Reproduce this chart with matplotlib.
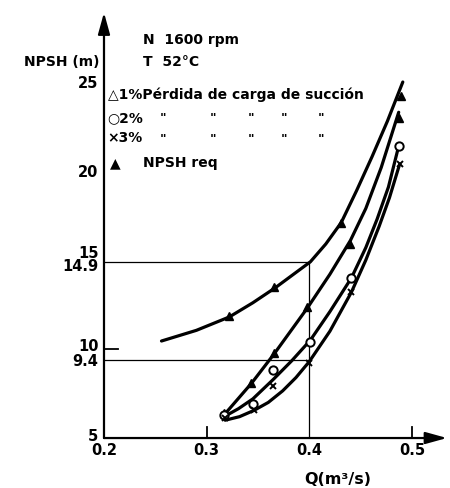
import matplotlib
matplotlib.use("Agg")
import matplotlib.pyplot as plt

plt.rcParams['font.family'] = ['DejaVu Sans']

# Curve traces (Q in m3/s, NPSH in m)
req_q = [0.256, 0.290, 0.322, 0.345, 0.367, 0.401, 0.416, 0.431, 0.446, 0.461, 0.476, 0.491]
req_h = [10.45, 11.05, 11.8, 12.6, 13.45, 14.9, 15.9, 17.1, 18.9, 20.8, 22.8, 25.0]

pct1_q = [0.317, 0.344, 0.366, 0.398, 0.420, 0.440, 0.455, 0.470, 0.487]
pct1_h = [6.3, 8.1, 9.75, 12.3, 14.2, 16.1, 17.9, 20.2, 23.3]

pct2_q = [0.317, 0.331, 0.345, 0.365, 0.383, 0.401, 0.420, 0.441, 0.455, 0.466, 0.477, 0.487]
pct2_h = [6.2, 6.65, 7.2, 8.3, 9.35, 10.5, 12.1, 14.0, 15.7, 17.3, 19.1, 21.4]

pct3_q = [0.318, 0.332, 0.346, 0.360, 0.374, 0.387, 0.400, 0.420, 0.441, 0.455, 0.468, 0.478, 0.488]
pct3_h = [6.0, 6.2, 6.55, 7.0, 7.65, 8.4, 9.3, 11.0, 13.2, 15.0, 16.9, 18.5, 20.4]

# Measured points
req_pts_q = [0.322, 0.366, 0.431, 0.489]
req_pts_h = [11.85, 13.5, 17.1, 24.2]
pct1_pts_q = [0.317, 0.343, 0.366, 0.398, 0.440, 0.487]
pct1_pts_h = [6.4, 8.1, 9.8, 12.35, 15.9, 23.0]
pct2_pts_q = [0.317, 0.345, 0.365, 0.401, 0.441, 0.487]
pct2_pts_h = [6.3, 6.9, 8.8, 10.4, 14.0, 21.4]
pct3_pts_q = [0.318, 0.346, 0.365, 0.400, 0.441, 0.488]
pct3_pts_h = [6.1, 6.6, 7.9, 9.2, 13.2, 20.4]

# Operating point read-off
op_q = 0.4
op_h_req = 14.9
op_h_3 = 9.4

y_ticks = [5, 9.4, 10, 14.9, 15, 20, 25]
y_tick_labels = ["5", "9.4", "10", "14.9", "15", "20", "25"]
x_ticks = [0.2, 0.3, 0.4, 0.5]
x_tick_labels = ["0.2", "0.3", "0.4", "0.5"]

fig = plt.figure(figsize=(4.5, 4.89), dpi=100)
ax = fig.add_axes([0.2311, 0.1022, 0.7667, 0.870])
x0, x1 = 0.2, 0.536
y0, y1 = 5, 28.9
ax.set_xlim(x0, x1)
ax.set_ylim(y0, y1)
for s in ax.spines.values():
    s.set_visible(False)
ax.set_xticks([])
ax.set_yticks([])

# Axes with arrowheads
arrow = dict(arrowstyle='-|>,head_length=1.3,head_width=0.36', mutation_scale=10,
             lw=1.6, color='black', shrinkA=0, shrinkB=0)
ax.annotate('', xy=(x0, y1), xytext=(x0, y0), arrowprops=arrow, annotation_clip=False)
ax.annotate('', xy=(x1 - 0.002, y0), xytext=(x0, y0), arrowprops=arrow, annotation_clip=False)

# Tick labels (nudged apart where two values sit close together)
lab_kw = dict(fontsize=10.5, fontweight='bold', textcoords='offset points',
              annotation_clip=False)
y_nudge = {"5": 2.0, "9.4": -0.5, "10": 2.5, "14.9": -3.0, "15": 5.5}
for v, lab in zip(y_ticks, y_tick_labels):
    ax.annotate(lab, xy=(x0, v), xytext=(-4, y_nudge.get(lab, 0)),
                ha='right', va='center', **lab_kw)
for v, lab in zip(x_ticks, x_tick_labels):
    ax.annotate(lab, xy=(v, y0), xytext=(0, -3), ha='center', va='top', **lab_kw)

# Short tick marks
ax.plot([0.3, 0.3], [5, 5.6], color='black', lw=1.3)
ax.plot([0.5, 0.5], [5, 5.6], color='black', lw=1.3)
ax.plot([0.2, 0.2136], [10, 10], color='black', lw=1.3)

# Read-off guide lines
ax.plot([x0, op_q], [op_h_req, op_h_req], color='black', lw=0.9)
ax.plot([x0, op_q], [op_h_3, op_h_3], color='black', lw=0.9)
ax.plot([op_q, op_q], [y0, op_h_req], color='black', lw=0.9)

# Curves
line_kw = dict(color='black', lw=2.3, solid_capstyle='round', solid_joinstyle='round')
ax.plot(req_q, req_h, **line_kw)
ax.plot(pct1_q, pct1_h, **line_kw)
ax.plot(pct2_q, pct2_h, **line_kw)
ax.plot(pct3_q, pct3_h, **line_kw)

ax.plot(req_pts_q, req_pts_h, ls='none', marker='^', ms=6, color='black')
ax.plot(pct1_pts_q, pct1_pts_h, ls='none', marker='^', ms=5.5, color='black')
ax.plot(pct2_pts_q, pct2_pts_h, ls='none', marker='o', ms=6, mfc='white', mec='black', mew=1.4)
ax.plot(pct3_pts_q, pct3_pts_h, ls='none', marker='x', ms=5, color='black', mew=1.4)

# Annotations
tkw = dict(fontsize=10, fontweight='bold', color='black', va='center', clip_on=False)
ax.text(0.196, 26.2, "NPSH (m)", ha='right', **tkw)
ax.text(0.2379, 27.4, "N  1600 rpm", ha='left', **tkw)
ax.text(0.2379, 26.2, "T  52°C", ha='left', **tkw)
ax.text(0.2035, 24.33, "△1%Pérdida de carga de succión", ha='left', **tkw)
ax.text(0.2035, 23.03, "○2%", ha='left', **tkw)
ax.text(0.2035, 21.9, "×3%", ha='left', **tkw)
ax.text(0.2105, 20.5, "▲", ha='center', **tkw)
ax.text(0.2379, 20.5, "NPSH req", ha='left', **tkw)
for xd in [0.2573, 0.3058, 0.3437, 0.3757, 0.4117]:
    ax.text(xd, 23.0, '"', ha='center', fontsize=9, fontweight='bold', va='center')
    ax.text(xd, 21.85, '"', ha='center', fontsize=9, fontweight='bold', va='center')
ax.text(0.3951, 2.75, "Q(m³/s)", ha='left', fontsize=11.5, fontweight='bold',
        va='center', clip_on=False)

fig.savefig("out.png", dpi=100, facecolor='white')
